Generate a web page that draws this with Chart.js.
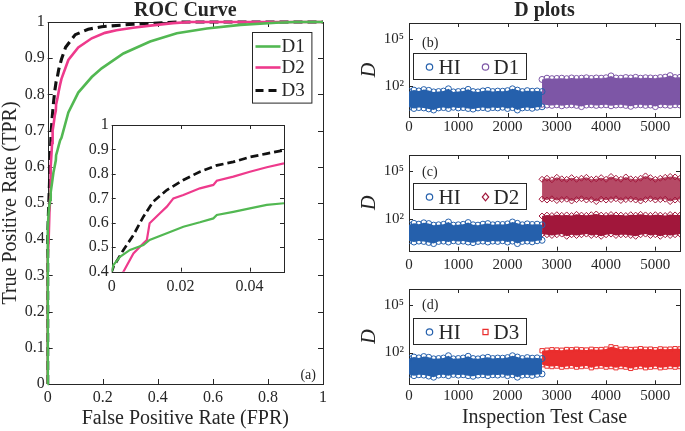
<!DOCTYPE html>
<html><head><meta charset="utf-8">
<script src="https://cdn.jsdelivr.net/npm/chart.js@4.4.1/dist/chart.umd.min.js"></script>
<style>
html,body{margin:0;padding:0;background:#fff;}
#wrap{position:relative;width:685px;height:431px;overflow:hidden;background:#fff;}
canvas{position:absolute;display:block;}
</style></head><body>
<div id="wrap">
<canvas id="roc" width="340" height="431" style="left:0;top:0"></canvas>
<canvas id="inset" width="225" height="190" style="left:70px;top:110px"></canvas>
<canvas id="pb" width="340" height="140" style="left:345px;top:0"></canvas>
<canvas id="pc" width="340" height="135" style="left:345px;top:140px"></canvas>
<canvas id="pd" width="340" height="156" style="left:345px;top:275px"></canvas>
</div>
<script>
// ---------- ROC data (FPR, TPR) ----------
const rocFprD1 = [0, 0, 0.0005, 0.0024, 0.0053, 0.0092, 0.011, 0.016, 0.0208, 0.0256, 0.0295, 0.0305, 0.0353, 0.0401, 0.045, 0.05, 0.075, 0.111, 0.16, 0.196, 0.275, 0.372, 0.469, 0.578, 0.70, 0.83, 0.9, 1];
const rocTprD1 = [0, 0.40, 0.427, 0.461, 0.489, 0.509, 0.53, 0.557, 0.584, 0.602, 0.618, 0.632, 0.645, 0.659, 0.673, 0.68, 0.75, 0.805, 0.848, 0.872, 0.913, 0.946, 0.969, 0.982, 0.992, 0.998, 1, 1];
const rocFprD2 = [0, 0, 0.0034, 0.0063, 0.0092, 0.0102, 0.011, 0.014, 0.016, 0.0179, 0.0208, 0.0256, 0.0295, 0.0305, 0.0353, 0.0401, 0.045, 0.05, 0.075, 0.111, 0.16, 0.208, 0.25, 0.31, 0.372, 0.455, 0.52, 1];
const rocTprD2 = [0, 0.35, 0.40, 0.475, 0.516, 0.53, 0.598, 0.639, 0.666, 0.70, 0.714, 0.741, 0.755, 0.772, 0.789, 0.809, 0.827, 0.843, 0.895, 0.93, 0.955, 0.97, 0.977, 0.984, 0.99, 0.997, 1, 1];
const rocFprD3 = [0, 0, 0.0005, 0.0034, 0.0063, 0.0092, 0.012, 0.016, 0.0208, 0.0256, 0.0305, 0.0353, 0.0401, 0.045, 0.05, 0.065, 0.1, 0.147, 0.196, 0.31, 0.42, 0.47, 1];
const rocTprD3 = [0, 0.40, 0.42, 0.489, 0.55, 0.625, 0.686, 0.734, 0.775, 0.809, 0.835, 0.849, 0.869, 0.883, 0.897, 0.93, 0.965, 0.98, 0.987, 0.994, 0.998, 1, 1];
const rocXTicks = [0, 0.2, 0.4, 0.6, 0.8, 1];
const rocYTicks = [0, 0.1, 0.2, 0.3, 0.4, 0.5, 0.6, 0.7, 0.8, 0.9, 1];
const insetXTicks = [0, 0.02, 0.04];
const insetYTicks = [0.4, 0.5, 0.6, 0.7, 0.8, 0.9, 1];
const rocNames = ['D1', 'D2', 'D3'];

// ---------- D plots data (envelopes of the point clouds, D values) ----------
const hiCases = [0,100,200,300,400,500,600,700,800,900,1000,1100,1200,1300,1400,1500,1600,1700,1800,1900,2000,2100,2200,2300,2400,2500,2600,2700];
const hiUpper = [42,52,46,56,50,40,42,45,63,40,42,45,58,42,40,46,50,42,45,44,48,63,52,42,48,44,46,42];
const hiLower = [4.2,3.5,4.0,3.8,3.3,2.8,3.8,4.0,3.5,4.2,3.8,4.0,3.5,3.2,3.8,4.0,3.5,4.0,3.8,4.2,3.5,4.0,2.8,3.8,4.0,3.6,4.2,4.5];
const defCases = [2700,2800,2900,3000,3100,3200,3300,3400,3500,3600,3700,3800,3900,4000,4100,4200,4300,4400,4500,4600,4700,4800,4900,5000,5100,5200,5300,5400,5500];
const d1Upper = [250,300,280,290,300,280,310,290,300,320,290,310,300,320,420,310,300,330,310,340,300,320,310,300,330,350,440,330,340];
const d1Lower = [6.5,5.8,5.5,6,5.2,5.8,6,5.5,4.6,5.8,6,5.5,5.8,6,5.2,5.8,6,5.5,4.8,5.8,6,5.5,5.8,4.6,6,5.8,5.5,6,5.8];
const d2LowUpper = [150,170,160,180,165,175,160,190,170,165,180,200,170,165,185,175,170,160,180,170,190,175,165,180,170,160,185,175,170];
const d2LowLower = [11,10,9,10,11,8,10,9,10,11,9,10,8,10,11,9,10,10,9,8,10,11,9,10,8,10,9,10,11];
const d2HighUpper = [30000,35000,28000,40000,32000,30000,38000,30000,35000,40000,30000,32000,38000,30000,45000,35000,30000,42000,32000,30000,35000,49000,38000,30000,35000,40000,45000,42000,35000];
const d2HighLower = [1700,1500,1800,1400,1600,1700,1300,1600,1800,1500,1600,1200,1700,1500,1600,1800,1400,1600,1700,1500,1300,1600,1800,1500,1600,1700,1200,1500,1600];
const d3Upper = [130,140,150,145,140,155,150,160,150,145,160,150,155,165,230,200,160,170,155,160,175,160,165,150,170,160,165,175,170];
const d3Lower = [17,14,13,14,12,13,14,12,13,14,11,13,14,12,13,11,13,12,10,12,13,11,12,13,11,12,13,12,13];
const dXTicks = [0, 1000, 2000, 3000, 4000, 5000];
const dYTicks = [100, 100000];
const dYTickLabels = ['10\u00B2', '10\u2075'];
const dNames = ['HI', 'D1', 'D2', 'D3'];

// ---------- styling ----------
const SERIF = "'Liberation Serif','Times New Roman',serif";
const INK = '#262626';
const C_GREEN = '#52B852', C_PINK = '#EE3A8C', C_BLACK = '#111111';
const C_HI = '#2560AC', C_D1 = '#7D56A6', C_D2 = '#A1173B', C_D3 = '#EA2E2E';

function pts(xs, ys) { return xs.map((x, i) => ({x: x, y: ys[i]})); }
function fixTicks(vals) { return s => { s.ticks = vals.map(v => ({value: v})); }; }

function marker(ctx, style, x, y, r) {
  ctx.beginPath();
  if (style === 'circle') ctx.arc(x, y, r, 0, Math.PI * 2);
  else if (style === 'rectRot') { ctx.moveTo(x, y - r * 1.2); ctx.lineTo(x + r, y); ctx.lineTo(x, y + r * 1.2); ctx.lineTo(x - r, y); ctx.closePath(); }
  else ctx.rect(x - r * 0.8, y - r * 0.8, r * 1.6, r * 1.6);
  ctx.stroke();
}

function makeFrame(cfg) {
  return {
    id: 'frame',
    beforeDatasetsDraw(chart) {
      const {ctx, chartArea: a, scales} = chart;
      const x = scales.x, y = scales.y;
      ctx.save();
      ctx.setLineDash([]);
      ctx.strokeStyle = INK; ctx.lineWidth = 1;
      const L = cfg.tick;
      ctx.beginPath();
      x.ticks.forEach(t => { const p = Math.round(x.getPixelForValue(t.value)) + 0.5;
        ctx.moveTo(p, a.bottom); ctx.lineTo(p, a.bottom - L); ctx.moveTo(p, a.top); ctx.lineTo(p, a.top + L); });
      y.ticks.forEach(t => { const p = Math.round(y.getPixelForValue(t.value)) + 0.5;
        ctx.moveTo(a.left, p); ctx.lineTo(a.left + L, p); ctx.moveTo(a.right, p); ctx.lineTo(a.right - L, p); });
      ctx.stroke();
      const l = Math.round(a.left) + 0.5, tp = Math.round(a.top) + 0.5;
      ctx.strokeRect(l, tp, Math.round(a.right) - Math.round(a.left), Math.round(a.bottom) - Math.round(a.top));
      ctx.restore();
    },
    afterDatasetsDraw(chart) {
      const {ctx, chartArea: a} = chart;
      ctx.save();
      ctx.fillStyle = INK;
      if (cfg.title) {
        ctx.font = 'bold 20px ' + SERIF; ctx.textAlign = 'center'; ctx.textBaseline = 'middle';
        ctx.fillText(cfg.title, (a.left + a.right) / 2, cfg.titleY);
      }
      if (cfg.tag) {
        ctx.font = '14px ' + SERIF; ctx.textAlign = cfg.tag.align; ctx.textBaseline = 'middle';
        ctx.fillText(cfg.tag.text, a.left + cfg.tag.dx, a.top + cfg.tag.dy);
      }
      if (cfg.legend) {
        const lg = cfg.legend;
        const bx = Math.round(a.left + lg.x) + 0.5, by = Math.round(a.top + lg.y) + 0.5;
        ctx.fillStyle = '#fff'; ctx.fillRect(bx, by, lg.w, lg.h);
        ctx.strokeStyle = INK; ctx.lineWidth = 1; ctx.strokeRect(bx, by, lg.w, lg.h);
        ctx.font = lg.size + 'px ' + SERIF; ctx.textAlign = 'left'; ctx.textBaseline = 'middle';
        lg.items.forEach(it => {
          const cy = by + it.y;
          ctx.strokeStyle = it.color;
          if (it.kind === 'line') {
            ctx.lineWidth = it.width; ctx.setLineDash(it.dash || []);
            ctx.beginPath(); ctx.moveTo(bx + it.x0, cy); ctx.lineTo(bx + it.x1, cy); ctx.stroke();
            ctx.setLineDash([]);
          } else {
            ctx.lineWidth = 1.2; marker(ctx, it.style, bx + it.mx, cy, 3.2);
          }
          ctx.fillStyle = INK; ctx.fillText(it.label, bx + it.tx, cy + 1);
        });
      }
      ctx.restore();
    }
  };
}

function linearAxis(min, max, ticks, fontSize, pad, fit, isX, title) {
  return {
    type: 'linear', min: min, max: max,
    afterBuildTicks: fixTicks(ticks),
    afterFit: s => { if (isX) s.height = fit; else s.width = fit; },
    ticks: {callback: v => String(v), font: {family: SERIF, size: fontSize}, color: INK, padding: pad, maxRotation: 0, autoSkip: false},
    grid: {display: false, drawTicks: false}, border: {display: false},
    title: title || {display: false}
  };
}

Chart.defaults.font.family = SERIF;

// ---------- ROC main ----------
function rocSets(width, dash) {
  return [
    {label: rocNames[0], data: pts(rocFprD1, rocTprD1), borderColor: C_GREEN, borderWidth: width, pointRadius: 0, tension: 0, fill: false},
    {label: rocNames[1], data: pts(rocFprD2, rocTprD2), borderColor: C_PINK, borderWidth: width, pointRadius: 0, tension: 0, fill: false},
    {label: rocNames[2], data: pts(rocFprD3, rocTprD3), borderColor: C_BLACK, borderWidth: width + 0.5, borderDash: dash, pointRadius: 0, tension: 0, fill: false}
  ];
}
const baseOpts = {responsive: false, animation: false, devicePixelRatio: 1, events: [],
  plugins: {legend: {display: false}, tooltip: {enabled: false}, title: {display: false}}};

new Chart(document.getElementById('roc'), {
  type: 'line',
  data: {datasets: rocSets(2.6, [9, 5]).map(d => Object.assign(d, {clip: false}))},
  options: Object.assign({}, baseOpts, {
    layout: {padding: {top: 22, right: 17, left: 0, bottom: 0}},
    scales: {
      x: linearAxis(0, 1, rocXTicks, 16, 4, 47, true,
        {display: true, text: 'False Positive Rate (FPR)', font: {family: SERIF, size: 20}, color: INK, padding: {top: 0, bottom: 0}}),
      y: linearAxis(0, 1, rocYTicks, 16, 3, 47.7, false,
        {display: true, text: 'True Positive Rate (TPR)', font: {family: SERIF, size: 20}, color: INK, padding: {top: -1, bottom: 0}})
    }
  }),
  plugins: [makeFrame({tick: 5, title: 'ROC Curve', titleY: 11,
    tag: {text: '(a)', dx: 268.3, dy: 353, align: 'right'},
    legend: {x: 204.6, y: 9.7, w: 59.4, h: 70.6, size: 19, items: [
      {kind: 'line', color: C_GREEN, width: 2.6, x0: 3, x1: 28, tx: 29, y: 14, label: rocNames[0]},
      {kind: 'line', color: C_PINK, width: 2.6, x0: 3, x1: 28, tx: 29, y: 35, label: rocNames[1]},
      {kind: 'line', color: C_BLACK, width: 3, dash: [8, 5], x0: 3, x1: 28, tx: 29, y: 58, label: rocNames[2]}
    ]}})]
});

// ---------- ROC inset ----------
new Chart(document.getElementById('inset'), {
  type: 'line',
  data: {datasets: rocSets(2.2, [8, 4])},
  options: Object.assign({}, baseOpts, {
    layout: {padding: {top: 15, right: 11, left: 0, bottom: 0}},
    scales: {
      x: linearAxis(0, 0.05, insetXTicks, 16, 5, 28.3, true),
      y: linearAxis(0.4, 1, insetYTicks, 16, 3, 41.7, false)
    }
  }),
  plugins: [makeFrame({tick: 4})]
});

// ---------- D plots ----------
function bandSets(xs, lo, hi, color, fillCol, style) {
  const common = {borderColor: 'rgba(0,0,0,0)', borderWidth: 1, pointStyle: style, pointRadius: 3, pointBorderColor: color,
    pointBackgroundColor: 'rgba(0,0,0,0)', pointBorderWidth: 1, tension: 0};
  return [
    Object.assign({}, common, {data: pts(xs, lo), fill: false}),
    Object.assign({}, common, {data: pts(xs, hi), fill: '-1', backgroundColor: fillCol})
  ];
}
function dChart(id, sets, padTop, xHeight, xPad, xTitle, frameCfg) {
  new Chart(document.getElementById(id), {
    type: 'line',
    data: {datasets: sets},
    options: Object.assign({}, baseOpts, {
      layout: {padding: {top: padTop, right: 1, left: 0, bottom: 0}},
      scales: {
        x: linearAxis(0, 5500, dXTicks, 15, xPad, xHeight, true, xTitle),
        y: {type: 'logarithmic', min: 1, max: 1000000,
          afterBuildTicks: fixTicks(dYTicks),
          afterFit: s => { s.width = 64; },
          ticks: {callback: (v, i) => dYTickLabels[i], font: {family: SERIF, size: 15}, color: INK, padding: 5, autoSkip: false},
          grid: {display: false, drawTicks: false}, border: {display: false},
          title: {display: true, text: 'D', font: {family: SERIF, size: 20, style: 'italic'}, color: INK, padding: {top: 13, bottom: 0}}}
      }
    }),
    plugins: [makeFrame(frameCfg)]
  });
}
function dLegend(yOff, name, color, style) {
  return {x: 4, y: yOff, w: 113, h: 26, size: 21, items: [
    {kind: 'marker', style: 'circle', color: C_HI, mx: 16, tx: 25, y: 13.5, label: dNames[0]},
    {kind: 'marker', style: style, color: color, mx: 72, tx: 80, y: 13.5, label: name}
  ]};
}
const hiSets = () => bandSets(hiCases, hiLower, hiUpper, C_HI, C_HI, 'circle');

dChart('pb', hiSets().concat(bandSets(defCases, d1Lower, d1Upper, C_D1, C_D1, 'circle')),
  23, 23, 1, null,
  {tick: 4, title: 'D plots', titleY: 11, tag: {text: '(b)', dx: 13, dy: 20, align: 'left'}, legend: dLegend(30, dNames[1], C_D1, 'circle')});

dChart('pc', hiSets()
  .concat(bandSets(defCases, d2LowLower, d2LowUpper, C_D2, C_D2, 'rectRot'))
  .concat(bandSets(defCases, d2HighLower, d2HighUpper, C_D2, 'rgba(161,23,59,0.78)', 'rectRot')),
  15, 24.3, 5, null,
  {tick: 4, tag: {text: '(c)', dx: 13, dy: 17.5, align: 'left'}, legend: dLegend(28, dNames[2], C_D2, 'rectRot')});

dChart('pd', hiSets().concat(bandSets(defCases, d3Lower, d3Upper, C_D3, C_D3, 'rect')),
  13.3, 46.7, 3,
  {display: true, text: 'Inspection Test Case', font: {family: SERIF, size: 20}, color: INK, padding: {top: 0, bottom: 1}},
  {tick: 4, tag: {text: '(d)', dx: 13, dy: 16, align: 'left'}, legend: dLegend(29, dNames[3], C_D3, 'rect')});
</script>
</body></html>
